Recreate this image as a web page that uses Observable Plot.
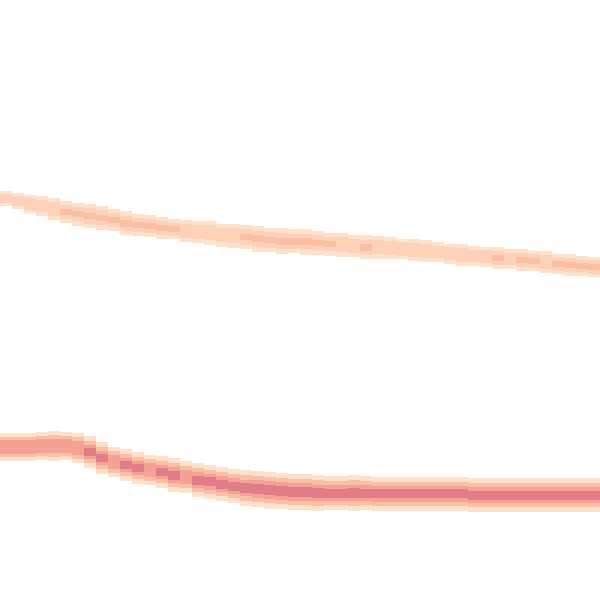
<!DOCTYPE html>
<html>
<head>
<meta charset="utf-8">
<script src="https://cdn.jsdelivr.net/npm/d3@7"></script>
<script src="https://cdn.jsdelivr.net/npm/@observablehq/plot@0.6"></script>
<style>
  html, body { margin: 0; padding: 0; background: #fff; }
</style>
</head>
<body>
<div id="chart"></div>
<script>
// Band centre values per column
const upperCentre = [66.9,66.5,66.0,65.7,65.2,64.7,64.3,64.0,63.7,63.3,62.8,62.5,62.3,62.0,61.8,61.5,61.3,61.2,60.8,60.7,60.5,60.2,60.0,59.8,59.8,59.7,59.5,59.3,59.2,59.0,58.8,58.8,58.7,58.5,58.3,58.2,58.0,57.7,57.5,57.3,57.2,57.0,56.8,56.7,56.5,56.3,56.0,55.8,55.7,55.5];
const lowerCentre = [25.5,25.5,25.5,25.67,25.67,25.67,25.33,24.67,23.67,23.0,22.5,22.0,21.67,21.33,20.83,20.5,20.0,19.67,19.33,19.0,18.67,18.5,18.33,18.17,18.0,18.0,17.83,17.83,17.83,17.83,17.83,17.67,17.67,17.67,17.67,17.67,17.67,17.67,17.67,17.5,17.5,17.5,17.5,17.5,17.5,17.5,17.5,17.5,17.5,17.5];
// Relative band thickness per column
const upperWidth = [0.7,0.75,0.8,0.9,1.0,1.0,1.05,1.1,1.1,1.0,1.1,1.0,1.0,1.05,0.95,1.0,1.0,1.1,1.05,1.1,1.15,1.2,1.15,1.2,1.1,1.2,1.1,1.05,1.1,1.0,1.1,1.05,1.0,0.95,1.0,1.0,0.9,0.95,1.0,0.9,0.95,1.0,0.9,1.0,0.95,1.0,0.95,1.0,0.9,0.95];
const lowerWidth = [0.85,0.85,0.85,0.85,0.9,0.85,0.9,0.95,0.95,0.9,0.95,0.95,0.9,0.95,1.0,0.95,1.0,1.0,1.0,1.0,1.05,1.1,1.1,1.1,1.1,1.1,1.05,1.0,1.0,1.05,1.0,1.0,1.0,1.0,1.0,1.0,1.0,1.0,1.0,1.0,1.0,1.0,1.0,1.0,1.0,1.0,1.0,1.0,1.0,1.0];
// Number of density levels reached in each column
const upperPeak = [2,2,2,2,2,3,3,3,3,3,3,3,3,3,3,2,2,2,2,2,3,3,3,3,3,3,3,3,2,2,3,2,2,2,2,2,2,2,2,2,2,3,2,3,3,2,3,3,3,3];
const lowerPeak = [3,3,3,3,3,3,3,4,4,3,4,4,3,4,4,3,4,4,4,4,4,4,4,4,4,4,4,4,4,4,4,4,4,4,4,4,4,4,4,4,4,4,4,4,4,4,4,4,4,4];
// Density level ids used by each band, outermost first
const upperLevels = [1, 2, 3];
const lowerLevels = [1, 3, 4, 5];
// Half-width of each level, per band
const upperSpread = [1.8, 1.15, 0.5];
const lowerSpread = [2.8, 2.0, 1.3, 0.75];
const levels = [1, 2, 3, 4, 5];
const levelColours = ["#fee1cb", "#fdd2b8", "#fbbfa3", "#f5a193", "#e17d89"];

const cells = [];
function addBand(centre, widthFactor, peak, ids, spread) {
  centre.forEach((c, i) => {
    for (let k = 0; k < peak[i]; k++) {
      const h = spread[k] * widthFactor[i];
      cells.push({col: i, lo: c - h, hi: c + h, level: ids[k]});
    }
  });
}
addBand(upperCentre, upperWidth, upperPeak, upperLevels, upperSpread);
addBand(lowerCentre, lowerWidth, lowerPeak, lowerLevels, lowerSpread);

const chart = Plot.plot({
  width: 600,
  height: 600,
  margin: 0,
  x: {domain: [0, upperCentre.length], axis: null},
  y: {domain: [0, 100], axis: null},
  color: {type: "ordinal", domain: levels, range: levelColours},
  marks: [
    Plot.rect(cells, {
      x1: "col",
      x2: d => d.col + 1,
      y1: "lo",
      y2: "hi",
      fill: "level",
      inset: 0,
      shapeRendering: "crispEdges"
    })
  ]
});
document.getElementById("chart").appendChild(chart);
</script>
</body>
</html>
